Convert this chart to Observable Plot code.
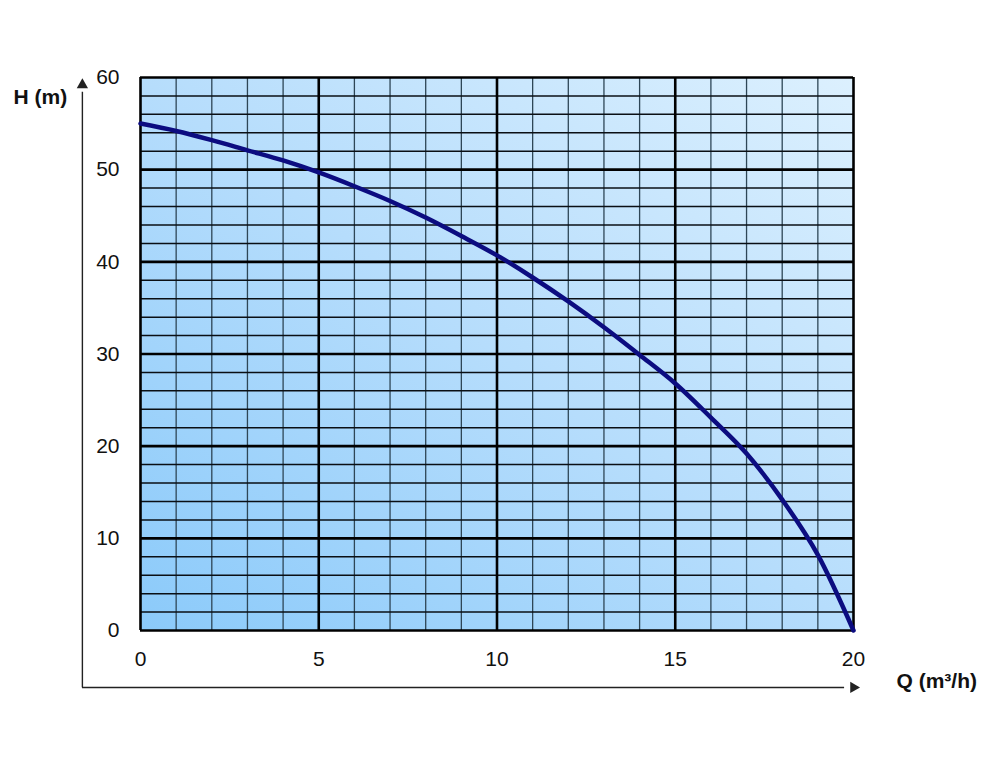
<!DOCTYPE html>
<html>
<head>
<meta charset="utf-8">
<script src="https://cdn.jsdelivr.net/npm/d3@7"></script>
<script src="https://cdn.jsdelivr.net/npm/@observablehq/plot@0.6"></script>
<style>
  body { margin: 0; background: #fff; }
  #chart svg { display: block; }
</style>
</head>
<body>
<div id="chart"></div>
<script>
// Pump curve: flow Q (m³/h) vs head H (m)
const flowQ = [0, 1, 2, 3, 4, 5, 6, 7, 8, 9, 10, 11, 12, 13, 14, 15, 16, 17, 18, 19, 20];
const headH = [55, 54.2, 53.2, 52.1, 51.0, 49.7, 48.2, 46.6, 44.8, 42.8, 40.7, 38.3, 35.7, 32.9, 29.9, 26.8, 23.1, 19.2, 14.2, 8.2, 0];

const xTicks = [0, 5, 10, 15, 20];
const yTicks = [0, 10, 20, 30, 40, 50, 60];
const xMinor = d3.range(0, 21, 1);
const yMinor = d3.range(0, 61, 2);
const yLabel = "H (m)";
const xLabel = "Q (m³/h)";

// axis arrow placement (data units, outside the grid)
const arrowX = -1.63;
const arrowY = -6.18;
const arrowTop = 59.2;
const arrowRight = 20;

const data = flowQ.map((q, i) => ({q, h: headH[i]}));

const font = "'Liberation Sans', Arial, sans-serif";

const chart = Plot.plot({
  width: 1000,
  height: 768,
  marginLeft: 140,
  marginRight: 147,
  marginTop: 77,
  marginBottom: 138,
  style: {fontFamily: font, fontSize: "21px", color: "#111", background: "transparent", overflow: "visible"},
  x: {domain: [0, 20], axis: null, label: null},
  y: {domain: [0, 60], axis: null, label: null},
  marks: [
    Plot.frame({fill: "url(#bggrad)", stroke: "none"}),
    Plot.ruleX(xMinor.filter(d => d % 5 !== 0), {stroke: "#2e4656", strokeWidth: 1.3}),
    Plot.ruleY(yMinor.filter(d => d % 10 !== 0), {stroke: "#0a0f14", strokeWidth: 1.5}),
    Plot.ruleX(xTicks, {stroke: "#000", strokeWidth: 2.6}),
    Plot.ruleY(yTicks, {stroke: "#000", strokeWidth: 2.6}),
    Plot.line(data, {x: "q", y: "h", stroke: "#0c0c80", strokeWidth: 4.5, curve: "monotone-x"}),
    // tick labels
    Plot.text(xTicks, {x: d => d, frameAnchor: "bottom", dy: 29, text: d => String(d), lineAnchor: "middle", textAnchor: "middle", fontSize: 21, fill: "#111", clip: false}),
    Plot.text(yTicks, {y: d => d, frameAnchor: "left", dx: -21, text: d => String(d), lineAnchor: "middle", textAnchor: "end", fontSize: 21, fill: "#111", clip: false}),
    // axis arrows
    Plot.ruleX([arrowX], {y1: arrowY, y2: arrowTop - 0.8, stroke: "#222", strokeWidth: 1.4, clip: false}),
    Plot.ruleY([arrowY], {x1: arrowX, x2: arrowRight - 0.25, stroke: "#222", strokeWidth: 1.4, clip: false}),
    Plot.dot([0], {x: () => arrowX, y: () => arrowTop, symbol: "triangle", r: 4.2, fill: "#222", stroke: "none", clip: false}),
    Plot.dot([0], {x: () => arrowRight, y: () => arrowY, symbol: "triangle", rotate: 90, r: 4.2, fill: "#222", stroke: "none", clip: false}),
    // axis titles
    Plot.text([yLabel], {frameAnchor: "top-left", dx: -127, dy: 20, text: d => d, textAnchor: "start", lineAnchor: "middle", fontSize: 21, fontWeight: "bold", fill: "#111"}),
    Plot.text([xLabel], {frameAnchor: "bottom-right", dx: 43, dy: 51, text: d => d, textAnchor: "start", lineAnchor: "middle", fontSize: 21, fontWeight: "bold", fill: "#111"})
  ]
});

chart.insertAdjacentHTML("afterbegin",
  '<defs><linearGradient id="bggrad" x1="0" y1="1" x2="1" y2="0">' +
  '<stop offset="0" stop-color="#8bcafa"/>' +
  '<stop offset="0.5" stop-color="#b6ddfc"/>' +
  '<stop offset="1" stop-color="#dcf0fe"/>' +
  '</linearGradient></defs>');

document.getElementById("chart").appendChild(chart);
</script>
</body>
</html>
